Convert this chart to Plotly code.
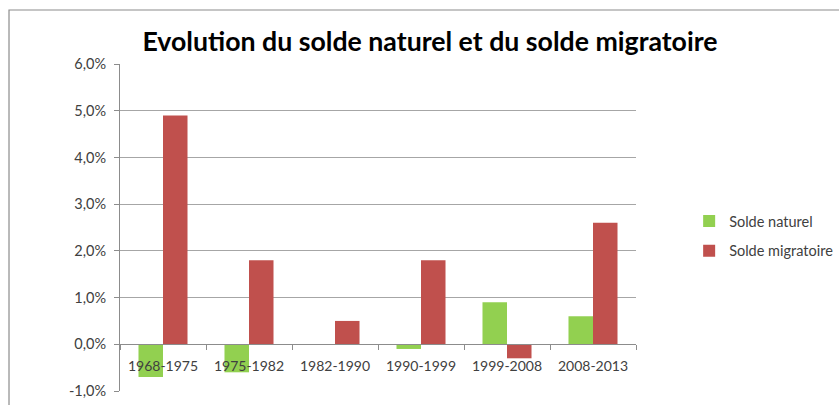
import plotly.graph_objects as go

# Population change components by period (% per year)
periods = ["1968-1975", "1975-1982", "1982-1990", "1990-1999", "1999-2008", "2008-2013"]
solde_naturel = [-0.7, -0.6, 0.0, -0.1, 0.9, 0.6]
solde_migratoire = [4.9, 1.8, 0.5, 1.8, -0.3, 2.6]
y_ticks = [-1, 0, 1, 2, 3, 4, 5, 6]
y_tick_labels = ["-1,0%", "0,0%", "1,0%", "2,0%", "3,0%", "4,0%", "5,0%", "6,0%"]

FONT = "Lato"
GRID = "#A6A6A6"
AXIS = "#8C8C8C"
TXT = "#404040"

fig = go.Figure()
fig.add_trace(go.Bar(x=periods, y=solde_naturel, name="Solde naturel",
                     marker=dict(color="#92D050", line=dict(width=0)),
                     legendgroup="a"))
fig.add_trace(go.Bar(x=periods, y=solde_migratoire, name="Solde migratoire",
                     marker=dict(color="#C0504D", line=dict(width=0)),
                     legendgroup="b"))

y_min, y_max = -1, 6
zero_pos = (0 - y_min) / (y_max - y_min)

fig.update_layout(
    width=839, height=405,
    margin=dict(l=120, r=203, t=64, b=14, autoexpand=False),
    paper_bgcolor="white", plot_bgcolor="white",
    barmode="group", bargap=0.43, bargroupgap=0,
    font=dict(family=FONT, color=TXT, size=14.5),
    title=dict(text="<b>Evolution du solde naturel et du solde migratoire</b>",
               font=dict(family=FONT, size=26.7, color="black"),
               x=0.5125, xanchor="center", y=0.897, yanchor="middle"),
    xaxis=dict(
        type="category", anchor="free", position=zero_pos,
        showline=True, linecolor=AXIS, linewidth=1,
        ticks="outside", tickson="boundaries", ticklen=5, tickcolor=AXIS,
        ticklabelstandoff=9,
        showgrid=False, zeroline=False,
        tickfont=dict(family=FONT, size=14, color=TXT),
    ),
    yaxis=dict(
        range=[y_min, y_max], tickvals=y_ticks, ticktext=y_tick_labels,
        showline=True, linecolor=AXIS, linewidth=1,
        ticks="outside", ticklen=5, tickcolor=AXIS,
        ticklabelstandoff=5,
        showgrid=True, gridcolor=GRID, gridwidth=1,
        zeroline=False,
        tickfont=dict(family=FONT, size=14.5, color=TXT),
    ),
    legend=dict(x=1.103, y=0.474, xanchor="left", yanchor="middle",
                font=dict(family=FONT, size=14.5, color=TXT),
                tracegroupgap=8, itemwidth=30, bgcolor="rgba(0,0,0,0)"),
    showlegend=True,
)

# Chart frame (extends past the right and bottom edges of the page)
fig.add_shape(type="rect", xref="paper", yref="paper",
              x0=-0.2151, y0=-0.3, x1=1.8, y1=1.1651,
              line=dict(color=AXIS, width=1.2), layer="below")

fig.write_html("out.html")
